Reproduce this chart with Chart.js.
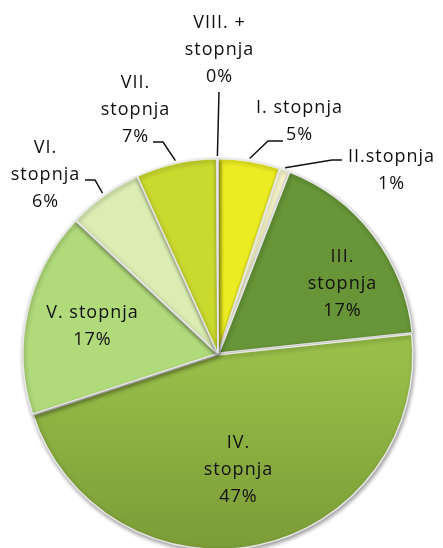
<!DOCTYPE html>
<html>
<head>
<meta charset="utf-8">
<script src="https://cdn.jsdelivr.net/npm/chart.js@4.4.1/dist/chart.umd.min.js"></script>
<style>
  html, body { margin: 0; padding: 0; background: #fff; }
  #wrap { width: 443px; height: 548px; overflow: hidden; position: relative; }
  #pie { position: absolute; left: 0; top: 0; }
</style>
</head>
<body>
<div id="wrap"><canvas id="pie" width="443" height="708"></canvas></div>
<script>
// ── Data ──────────────────────────────────────────────────────
const CATEGORIES = ['I. stopnja', 'II.stopnja', 'III. stopnja', 'IV. stopnja',
                    'V. stopnja', 'VI. stopnja', 'VII. stopnja', 'VIII. + stopnja'];
const VALUES     = [5.1, 0.8, 17.4, 46.6, 17.0, 6.2, 6.7, 0.1];
const COLORS     = ['#ECEC22', '#FAF9CE', '#679537', '#94BA45',
                    '#B1DA7B', '#DBEDB3', '#CAD92E', '#C8D860'];

// ── Label layout (text line 1 centre, leader elbow + end) ─────
const LABELS = [
  { lines: ['I. stopnja'],          x: 299, y: 108, leader: [[268, 141], [283, 141]] },
  { lines: ['II.stopnja'],          x: 391, y: 157, leader: [[332, 160], [342, 160]] },
  { lines: ['III.', 'stopnja'],     x: 342, y: 257 },
  { lines: ['IV.', 'stopnja'],      x: 238, y: 443 },
  { lines: ['V. stopnja'],          x: 92,  y: 313 },
  { lines: ['VI.', 'stopnja'],      x: 45,  y: 148, leader: [[95, 180], [85, 180]] },
  { lines: ['VII.', 'stopnja'],     x: 135, y: 83,  leader: [[163, 142], [153, 142]] },
  { lines: ['VIII. +', 'stopnja'],  x: 219, y: 23,  leader: [[219, 92]] },
];
const LINE_H = 27;

// ── Plugins ───────────────────────────────────────────────────
const shadowPlugin = {
  id: 'sliceShadow',
  beforeDatasetsDraw(chart) {
    const ctx = chart.ctx;
    ctx.save();
    ctx.shadowColor = 'rgba(0,0,0,0.4)';
    ctx.shadowBlur = 4;
    ctx.shadowOffsetX = 1;
    ctx.shadowOffsetY = 2;
  },
  afterDatasetsDraw(chart) {
    chart.ctx.restore();
  },
};

const labelPlugin = {
  id: 'sliceLabels',
  afterDraw(chart) {
    const ctx = chart.ctx;
    const arcs = chart.getDatasetMeta(0).data;
    ctx.save();
    ctx.font = "18px 'Open Sans', sans-serif";
    ctx.letterSpacing = '1px';
    ctx.fillStyle = '#111';
    ctx.textAlign = 'center';
    ctx.textBaseline = 'middle';
    arcs.forEach((arc, i) => {
      const lab = LABELS[i];
      const text = lab.lines.concat([Math.round(VALUES[i]) + '%']);
      text.forEach((t, k) => ctx.fillText(t, lab.x + 0.5, lab.y + k * LINE_H));

      if (lab.leader) {
        const mid = (arc.startAngle + arc.endAngle) / 2;
        const r = arc.outerRadius + 1;
        const off = chart.data.datasets[0].offset[i] || 0;
        const sx = arc.x + Math.cos(mid) * (r + off);
        const sy = arc.y + Math.sin(mid) * (r + off);
        ctx.beginPath();
        ctx.strokeStyle = '#111';
        ctx.lineWidth = 1.5;
        ctx.moveTo(sx, sy);
        lab.leader.forEach(([px, py]) => ctx.lineTo(px, py));
        ctx.stroke();
      }
    });
    ctx.restore();
  },
};

// ── Chart ─────────────────────────────────────────────────────
const canvas = document.getElementById('pie');
const ctx = canvas.getContext('2d');

function sliceColor(c) {
  const i = c.dataIndex;
  if (i === 3 && c.chart.chartArea) {
    const g = c.chart.ctx.createLinearGradient(0, 354, 0, 548);
    g.addColorStop(0, '#99BF49');
    g.addColorStop(1, '#7B9C37');
    return g;
  }
  return COLORS[i];
}

new Chart(ctx, {
  type: 'pie',
  data: {
    labels: CATEGORIES,
    datasets: [{
      data: VALUES,
      backgroundColor: sliceColor,
      borderColor: 'rgba(235,235,235,0.95)',
      borderWidth: 1.5,
      offset: [3, 3, 6, 3, 4, 3, 3, 3],
      radius: 194,
    }],
  },
  options: {
    responsive: false,
    animation: false,
    layout: { padding: { left: 0, right: 7, top: 0, bottom: 0 } },
    plugins: {
      legend: { display: false },
      tooltip: { enabled: false },
    },
  },
  plugins: [shadowPlugin, labelPlugin],
});
</script>
</body>
</html>
